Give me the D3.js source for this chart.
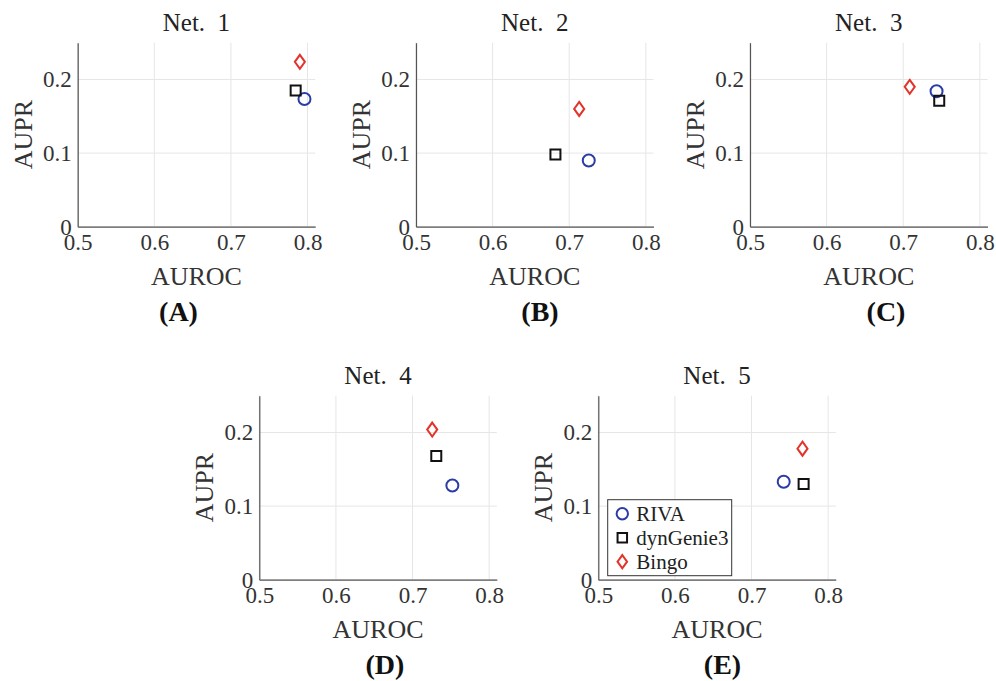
<!DOCTYPE html>
<html>
<head>
<meta charset="utf-8">
<script src="https://cdn.jsdelivr.net/npm/d3@7"></script>
<style>
  body { margin: 0; background: #fff; }
  svg text { font-family: "Liberation Serif", serif !important; }
</style>
</head>
<body>
<script>
// values
let nets = ["Net. 1", "Net. 2", "Net. 3", "Net. 4", "Net. 5"];
let panelLabels = ["(A)", "(B)", "(C)", "(D)", "(E)"];
let methods = ["RIVA", "dynGenie3", "Bingo"];

let rivaAuroc = [0.796, 0.7255, 0.7435, 0.752, 0.742];
let rivaAupr  = [0.1735, 0.090, 0.184, 0.128, 0.133];
let dynAuroc  = [0.7845, 0.682, 0.747, 0.731, 0.768];
let dynAupr   = [0.185, 0.098, 0.171, 0.168, 0.130];
let bingoAuroc = [0.790, 0.713, 0.7085, 0.7257, 0.7665];
let bingoAupr  = [0.224, 0.160, 0.190, 0.204, 0.178];

let xTicks = [0.5, 0.6, 0.7, 0.8];
let yTicks = [0, 0.1, 0.2];

let width = 996;
let height = 681;
let svg = d3.select("body").append("svg")
            .attr("width", width)
            .attr("height", height);

// MATLAB-style diamond (a bit wider than d3's)
let matDiamond = {
  draw: function(ctx, size) {
    let h = Math.sqrt(size) * 0.7, w = h * 0.72;
    ctx.moveTo(0, -h);
    ctx.lineTo(w, 0);
    ctx.lineTo(0, h);
    ctx.lineTo(-w, 0);
    ctx.closePath();
  }
};

let styles = [
  {type: d3.symbolCircle, size: Math.PI * 36, color: "#2a3da6"},
  {type: d3.symbolSquare, size: 100, color: "#111111"},
  {type: matDiamond, size: 100, color: "#e3332a"}
];

let series = [
  {auroc: rivaAuroc, aupr: rivaAupr},
  {auroc: dynAuroc, aupr: dynAupr},
  {auroc: bingoAuroc, aupr: bingoAupr}
];

// left/top of each axes box, and where the (A)...(E) label sits
let panels = [
  {x: 77.7, y: 42.7, lab: 178.5},
  {x: 416, y: 42.7, lab: 540},
  {x: 750, y: 42.7, lab: 886},
  {x: 259.3, y: 395.7, lab: 385},
  {x: 598.3, y: 395.7, lab: 722.5}
];
let pw = 237.5, ph = 184;

panels.forEach(function(p, i) {
  let g = svg.append("g").attr("transform", "translate(" + p.x + "," + p.y + ")");
  let x = d3.scaleLinear().domain([0.5, 0.81]).range([0, pw]);
  let y = d3.scaleLinear().domain([0, 0.25]).range([ph, 0]);

  // grid
  g.append("g").selectAll("line").data(xTicks).enter().append("line")
   .attr("x1", d => x(d)).attr("x2", d => x(d))
   .attr("y1", 0).attr("y2", ph)
   .attr("stroke", "#e6e6e6").attr("stroke-width", 1);
  g.append("g").selectAll("line").data(yTicks).enter().append("line")
   .attr("x1", 0).attr("x2", pw)
   .attr("y1", d => y(d)).attr("y2", d => y(d))
   .attr("stroke", "#e6e6e6").attr("stroke-width", 1);

  // axes
  let xAxis = d3.axisBottom(x).tickValues(xTicks).tickSize(0).tickPadding(7)
                .tickFormat(d3.format(".1f"));
  let yAxis = d3.axisLeft(y).tickValues(yTicks).tickSize(0).tickPadding(6)
                .tickFormat(d => d === 0 ? "0" : d3.format(".1f")(d));
  let gx = g.append("g").attr("transform", "translate(0," + ph + ")").call(xAxis);
  let gy = g.append("g").call(yAxis);
  [gx, gy].forEach(function(a) {
    a.attr("font-family", "Liberation Serif");
    a.select(".domain").attr("stroke", "#555").attr("stroke-width", 1.2);
    a.selectAll("text").attr("font-size", 23).attr("fill", "#333");
  });

  // markers
  series.forEach(function(s, k) {
    let st = styles[k];
    g.append("path")
     .attr("d", d3.symbol().type(st.type).size(st.size)())
     .attr("transform", "translate(" + x(s.auroc[i]) + "," + y(s.aupr[i]) + ")")
     .attr("fill", "none")
     .attr("stroke", st.color)
     .attr("stroke-width", 2);
  });

  // texts
  g.append("text").attr("x", pw / 2).attr("y", -12)
   .attr("text-anchor", "middle").attr("font-size", 25).attr("fill", "#222")
   .text(nets[i].replace(" ", "\u00a0 "));
  g.append("text").attr("x", pw / 2).attr("y", ph + 58)
   .attr("text-anchor", "middle").attr("font-size", 26).attr("fill", "#333")
   .text("AUROC");
  g.append("text")
   .attr("transform", "translate(-46," + (ph / 2) + ") rotate(-90)")
   .attr("text-anchor", "middle").attr("font-size", 26).attr("fill", "#333")
   .text("AUPR");
  g.append("text").attr("x", p.lab - p.x).attr("y", ph + 94)
   .attr("text-anchor", "middle").attr("font-size", 28).attr("font-weight", "bold")
   .attr("fill", "#111")
   .text(panelLabels[i]);

  // legend in last panel
  if (i === 4) {
    let lg = g.append("g").attr("transform", "translate(9.4," + (ph - 80) + ")");
    lg.append("rect").attr("width", 124).attr("height", 76)
      .attr("fill", "#fff").attr("stroke", "#333").attr("stroke-width", 1);
    methods.forEach(function(m, k) {
      let st = styles[k];
      let row = lg.append("g").attr("transform", "translate(14.6," + (14 + k * 24) + ")");
      row.append("path")
         .attr("d", d3.symbol().type(st.type).size(st.size * 0.9)())
         .attr("fill", "none").attr("stroke", st.color).attr("stroke-width", 2);
      row.append("text").attr("x", 14).attr("y", 7).attr("font-size", 21)
         .attr("fill", "#222").text(m);
    });
  }
});
</script>
</body>
</html>
